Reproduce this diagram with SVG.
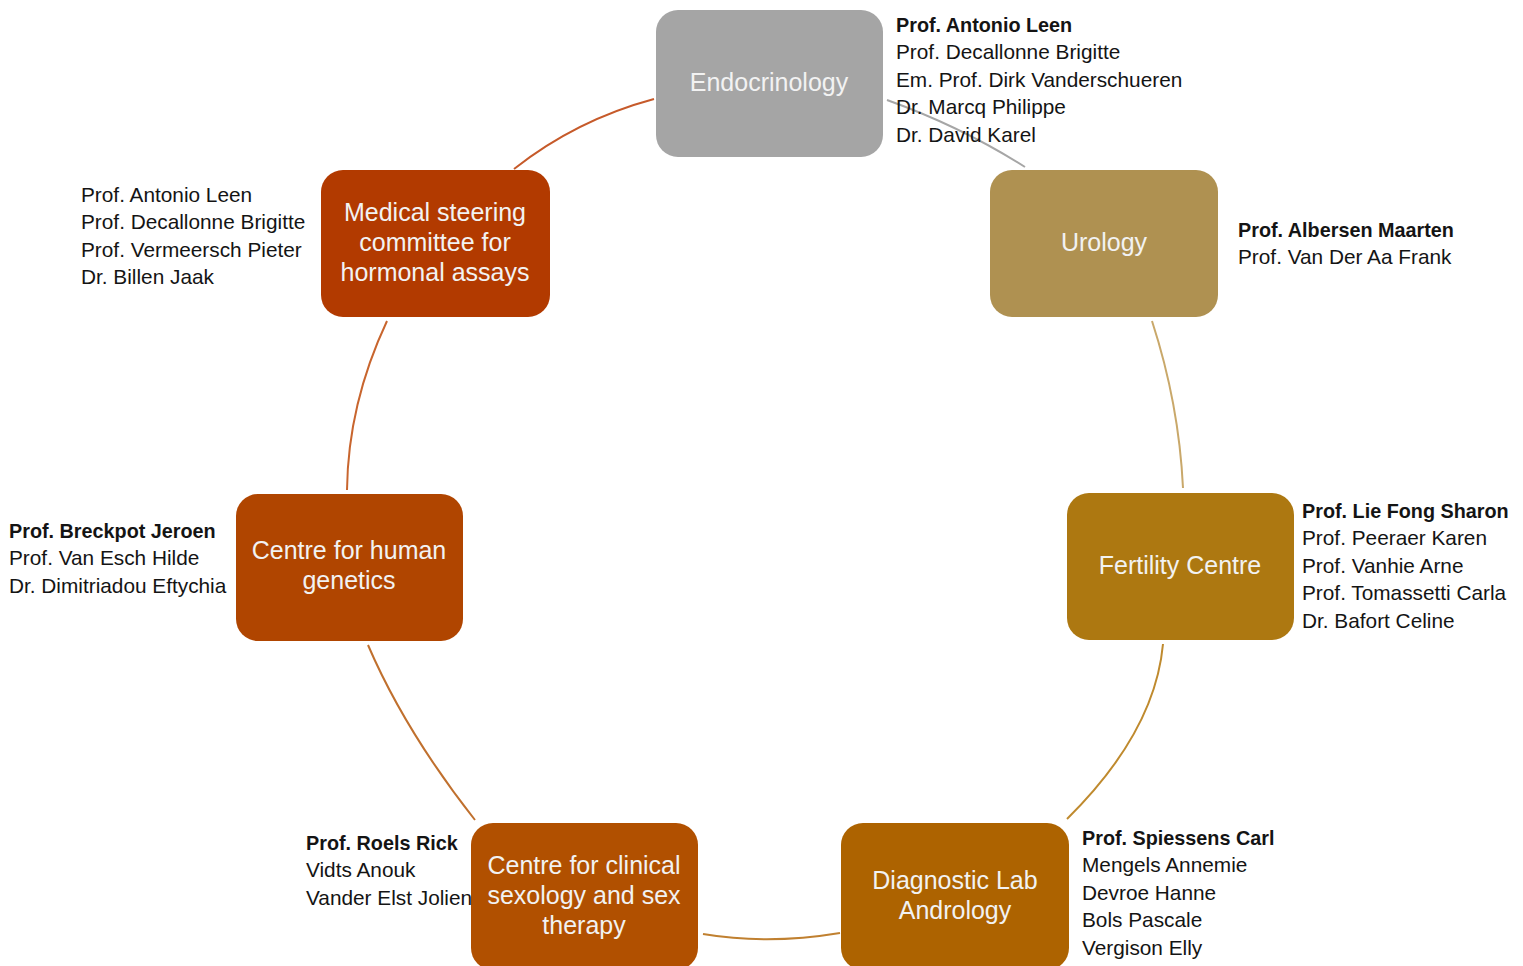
<svg xmlns="http://www.w3.org/2000/svg" width="1523" height="966" viewBox="0 0 1523 966">
<style>
.box{stroke:none}
.lbl{font-family:"Liberation Sans",Arial,sans-serif;font-size:25px;fill:#F2F2F2;text-anchor:middle}
.side{font-family:"Liberation Sans",Arial,sans-serif;font-size:20.8px;fill:#141414}
.b{font-weight:bold;font-size:19.8px}
.arc{fill:none;stroke-width:2}
</style>
<rect width="1523" height="966" fill="#FFFFFF"/>
<g id="connectors">
<path class="arc" d="M514,169 Q576,120 654,99" stroke="#C65A2A"/>
<path class="arc" d="M887,100 Q962,127 1025,167" stroke="#A6A6A6"/>
<path class="arc" d="M1152,321 Q1179,404 1183,488" stroke="#C9A86A"/>
<path class="arc" d="M1163,644 Q1155,732 1067,819" stroke="#BF8A2E"/>
<path class="arc" d="M840,933 Q768,945 703,934" stroke="#C08030"/>
<path class="arc" d="M475,820 Q405,731 368,645" stroke="#C0702E"/>
<path class="arc" d="M347,490 Q348,404 387,321" stroke="#C8652E"/>
</g>
<g id="endocrinology">
<rect class="box" x="656" y="10" width="227" height="147" rx="22" fill="#A5A5A5"/>
<text class="lbl" x="769" y="91">Endocrinology</text>
<text class="side" x="896"><tspan class="b" x="896" y="32">Prof. Antonio Leen</tspan><tspan x="896" y="59">Prof. Decallonne Brigitte</tspan><tspan x="896" y="87">Em. Prof. Dirk Vanderschueren</tspan><tspan x="896" y="114">Dr. Marcq Philippe</tspan><tspan x="896" y="142">Dr. David Karel</tspan></text>
</g>
<g id="medical-steering">
<rect class="box" x="321" y="170" width="229" height="147" rx="22" fill="#B23A00"/>
<text class="lbl"><tspan x="435" y="221">Medical steering</tspan><tspan x="435" y="251">committee for</tspan><tspan x="435" y="281">hormonal assays</tspan></text>
<text class="side"><tspan x="81" y="202">Prof. Antonio Leen</tspan><tspan x="81" y="229">Prof. Decallonne Brigitte</tspan><tspan x="81" y="257">Prof. Vermeersch Pieter</tspan><tspan x="81" y="284">Dr. Billen Jaak</tspan></text>
</g>
<g id="urology">
<rect class="box" x="990" y="170" width="228" height="147" rx="22" fill="#AF9151"/>
<text class="lbl" x="1104" y="251">Urology</text>
<text class="side"><tspan class="b" x="1238" y="237">Prof. Albersen Maarten</tspan><tspan x="1238" y="264">Prof. Van Der Aa Frank</tspan></text>
</g>
<g id="human-genetics">
<rect class="box" x="236" y="494" width="227" height="147" rx="22" fill="#B04500"/>
<text class="lbl"><tspan x="349" y="559">Centre for human</tspan><tspan x="349" y="589">genetics</tspan></text>
<text class="side"><tspan class="b" x="9" y="538">Prof. Breckpot Jeroen</tspan><tspan x="9" y="565">Prof. Van Esch Hilde</tspan><tspan x="9" y="593">Dr. Dimitriadou Eftychia</tspan></text>
</g>
<g id="fertility">
<rect class="box" x="1067" y="493" width="227" height="147" rx="22" fill="#AD7811"/>
<text class="lbl" x="1180" y="574">Fertility Centre</text>
<text class="side"><tspan class="b" x="1302" y="518">Prof. Lie Fong Sharon</tspan><tspan x="1302" y="545">Prof. Peeraer Karen</tspan><tspan x="1302" y="573">Prof. Vanhie Arne</tspan><tspan x="1302" y="600">Prof. Tomassetti Carla</tspan><tspan x="1302" y="628">Dr. Bafort Celine</tspan></text>
</g>
<g id="sexology">
<rect class="box" x="471" y="823" width="227" height="147" rx="22" fill="#B15000"/>
<text class="lbl"><tspan x="584" y="874">Centre for clinical</tspan><tspan x="584" y="904">sexology and sex</tspan><tspan x="584" y="934">therapy</tspan></text>
<text class="side"><tspan class="b" x="306" y="850">Prof. Roels Rick</tspan><tspan x="306" y="877">Vidts Anouk</tspan><tspan x="306" y="905">Vander Elst Jolien</tspan></text>
</g>
<g id="andrology">
<rect class="box" x="841" y="823" width="228" height="147" rx="22" fill="#AD6300"/>
<text class="lbl"><tspan x="955" y="889">Diagnostic Lab</tspan><tspan x="955" y="919">Andrology</tspan></text>
<text class="side"><tspan class="b" x="1082" y="845">Prof. Spiessens Carl</tspan><tspan x="1082" y="872">Mengels Annemie</tspan><tspan x="1082" y="900">Devroe Hanne</tspan><tspan x="1082" y="927">Bols Pascale</tspan><tspan x="1082" y="955">Vergison Elly</tspan></text>
</g>
</svg>
